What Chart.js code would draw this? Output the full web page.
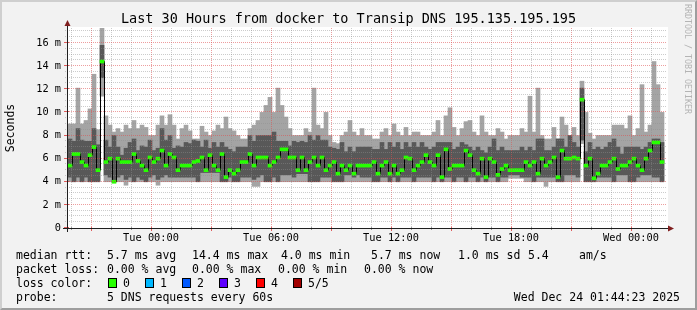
<!DOCTYPE html>
<html>
<head>
<meta charset="utf-8">
<title>Last 30 Hours from docker to Transip DNS</title>
<script src="https://cdn.jsdelivr.net/npm/chart.js@4.4.1/dist/chart.umd.min.js"></script>
<style>
  html, body { margin: 0; padding: 0; background: #f2f2f2; }
  #wrap { position: relative; width: 697px; height: 310px; overflow: hidden; }
  #frame { position: absolute; left: 0; top: 0; width: 697px; height: 310px; box-sizing: border-box;
    border: 2px solid; border-color: #cfcfcf #9e9e9e #9e9e9e #cfcfcf; }
  #chart { position: absolute; left: 0; top: 0; }
  .txt { position: absolute; font-family: "DejaVu Sans Mono", monospace; font-size: 11.5px; line-height: 14px; color: #000; white-space: pre; }
  #title { left: 0; width: 697px; text-align: center; font-size: 13.5px; line-height: 16px; top: 10px; }
  #mark { left: 683px; top: 4px; font-size: 8.3px; line-height: 10px; color: #b4b4b4; writing-mode: vertical-rl; }
  .box { position: absolute; width: 9px; height: 10px; box-sizing: border-box; border: 1px solid #000; }
</style>
</head>
<body>
<div id="wrap">
  <div id="frame"></div>
  <canvas id="chart" width="697" height="310"></canvas>
  <div class="txt" id="title">Last 30 Hours from docker to Transip DNS 195.135.195.195</div>
  <div class="txt" id="mark">RRDTOOL / TOBI OETIKER</div>
  <div id="legend"></div>
</div>
<script>
// one slot = 12 minutes, x is hours relative to Tue 00:00
const firstSlot = -4.05;
const slotHours = 0.2;
const xMin = -4.2, xMax = 25.8;
const yMax = 17.3;
const tickHours = [0, 6, 12, 18, 24];
const tickLabels = ['Tue 00:00', 'Tue 06:00', 'Tue 12:00', 'Tue 18:00', 'Wed 00:00'];
const yTicks = [0, 2, 4, 6, 8, 10, 12, 14, 16];
const yTickLabels = ['0', '2 m', '4 m', '6 m', '8 m', '10 m', '12 m', '14 m', '16 m'];

// smoke, ms: lowest ping, 2nd, median, 4th, highest ping
const lo = [
  4.0,4.0,4.0,4.0,4.0,4.0,4.0,4.0,11.4,4.0,4.0,4.0,4.0,4.0,3.7,4.0,4.0,4.0,4.0,4.0,4.0,4.0,3.7,4.0,4.0,
  4.0,4.0,4.0,4.0,4.0,4.0,4.0,4.0,4.0,4.0,4.0,4.0,4.0,4.0,4.0,4.0,4.0,4.0,4.0,4.0,4.0,3.6,3.6,4.0,
  4.0,4.0,4.0,4.0,4.0,4.0,4.0,4.0,4.0,4.0,4.0,4.0,4.0,4.0,4.0,4.0,4.0,4.0,4.0,4.0,4.0,4.0,4.0,4.0,4.0,
  4.0,4.0,4.0,4.0,4.0,4.0,4.0,4.0,4.0,4.0,4.0,4.0,4.0,4.0,4.0,4.0,4.0,4.0,4.0,4.0,4.0,4.0,4.0,4.0,4.0,
  4.0,4.0,4.0,4.0,4.0,4.0,4.0,4.0,4.0,4.0,4.0,4.3,4.3,4.3,4.3,4.0,4.0,4.0,4.0,4.0,3.6,4.0,4.0,4.0,4.0,
  4.0,4.0,4.0,4.0,7.3,4.0,4.0,4.0,4.0,4.0,4.0,4.0,4.0,4.0,4.0,4.0,4.0,4.0,4.0,4.0,4.0,4.0,4.0,4.0,4.0
];
const q2 = [
  4.4,4.0,4.4,4.0,4.4,4.0,4.0,4.0,13.0,4.6,4.4,4.0,4.4,4.6,4.2,4.4,4.0,4.4,4.2,4.0,4.4,4.6,4.2,4.4,4.6,
  4.4,4.4,4.4,4.4,4.4,4.4,4.4,4.0,4.8,4.8,4.8,4.8,4.8,4.0,4.0,4.4,4.0,4.0,4.4,4.4,4.4,4.2,4.4,4.6,
  4.0,4.0,4.4,4.0,4.6,4.6,4.6,4.4,4.7,4.7,4.7,4.0,4.0,4.0,4.4,4.4,4.4,4.0,4.0,4.0,4.6,4.6,4.4,4.6,4.4,
  4.4,4.4,4.0,4.0,4.4,4.4,4.0,4.4,4.0,4.4,4.4,4.4,4.0,4.4,4.4,4.4,4.4,4.0,4.4,4.0,4.4,4.4,4.0,4.4,4.4,
  4.0,4.4,4.4,4.0,4.4,4.0,4.4,4.4,4.0,4.4,4.4,4.6,4.6,4.6,4.4,4.4,4.4,4.0,4.4,4.4,4.4,4.4,4.4,4.0,4.0,
  4.6,4.6,4.6,4.4,7.6,4.0,4.0,4.0,4.4,4.4,4.4,4.4,4.0,4.6,4.6,4.6,4.0,4.0,4.4,4.6,4.6,4.6,4.4,4.4,4.0
];
const med = [
  5.4,6.4,6.4,5.7,5.4,6.3,7.0,5.0,14.4,5.7,6.0,4.0,6.0,5.7,5.7,5.7,6.4,5.8,5.4,5.0,6.1,5.7,6.0,6.7,5.4,
  6.4,6.1,5.0,5.4,5.4,5.4,5.7,5.8,6.1,5.0,6.3,5.4,5.0,6.4,4.4,5.0,4.7,5.0,5.7,5.7,6.4,5.4,6.1,6.1,
  6.1,5.4,5.7,6.1,6.8,6.8,6.1,6.1,5.0,6.1,5.0,5.7,6.1,5.4,6.1,5.0,5.4,5.7,4.7,5.4,5.0,5.4,4.7,5.4,5.4,
  5.4,5.4,5.7,4.7,5.4,5.7,4.7,5.4,4.7,5.0,6.1,6.0,5.0,5.4,5.7,6.3,5.7,5.4,6.3,4.4,6.8,5.1,5.4,5.4,5.4,
  6.7,6.3,5.0,4.7,6.0,4.4,6.0,5.7,4.6,5.1,5.4,5.0,5.0,5.0,5.0,5.7,5.4,5.7,4.7,6.0,5.4,5.7,6.1,4.4,6.7,
  6.0,6.0,6.1,6.0,11.1,5.4,6.0,4.3,4.7,5.4,5.4,5.7,6.0,5.1,5.4,5.4,5.7,6.0,5.4,5.0,6.0,6.7,7.4,7.4,5.7
];
const q4 = [
  7.7,7.5,8.6,7.6,7.5,7.5,8.6,7.2,15.8,7.6,7.0,8.0,7.0,6.3,6.9,7.4,7.7,6.7,7.1,7.0,7.6,6.7,6.9,8.6,7.6,
  8.0,6.9,7.1,7.0,7.4,7.3,7.6,7.5,7.0,7.6,6.9,7.4,7.0,7.4,7.0,6.8,6.6,7.0,7.0,7.0,8.0,7.5,8.0,8.0,
  8.0,8.0,8.3,7.5,7.5,7.5,7.1,7.5,7.4,7.5,7.4,8.0,7.6,8.0,7.6,7.6,7.0,6.9,6.8,7.4,6.6,7.0,6.6,7.0,7.0,
  7.0,7.0,6.8,6.8,7.4,6.8,7.4,7.0,7.4,6.8,7.4,7.0,7.4,7.0,7.4,7.0,6.8,7.0,7.4,7.4,7.4,7.4,6.8,7.0,7.4,
  7.2,7.0,6.7,7.0,6.7,6.5,7.0,7.7,6.7,7.0,6.7,6.7,6.7,6.7,7.0,6.7,7.0,6.7,7.7,7.7,6.7,6.7,7.0,7.7,7.7,
  7.0,8.0,7.4,7.0,12.1,6.6,7.4,6.8,7.0,6.8,7.0,7.4,7.7,7.0,6.4,7.0,7.0,7.0,7.0,6.8,7.0,7.4,7.7,7.7,7.4
];
const hi = [
  9.0,9.0,12.1,9.0,9.3,10.3,13.3,8.5,17.3,9.7,8.9,8.3,8.6,8.3,8.9,8.6,9.3,8.6,8.9,8.7,8.0,8.0,8.9,9.7,8.9,
  9.8,8.9,7.7,8.6,8.9,8.4,7.7,7.7,8.8,8.3,8.0,8.4,8.9,8.6,9.6,8.6,8.4,8.0,7.7,7.7,8.6,8.9,9.3,10.0,
  10.6,11.3,10.0,12.1,10.6,9.6,8.6,8.0,8.0,8.0,8.6,8.3,12.1,8.9,8.6,10.0,8.0,7.4,7.3,8.0,8.3,9.3,8.3,8.0,8.6,
  8.0,8.0,7.7,7.7,8.3,8.6,8.0,9.0,8.3,8.0,8.7,8.0,8.3,8.3,8.0,8.0,8.0,8.3,9.3,8.0,9.7,10.4,8.7,8.0,8.6,
  9.2,9.3,8.3,8.0,9.7,8.3,8.0,8.0,8.6,8.3,7.7,8.0,8.0,8.0,8.6,8.3,11.4,8.3,12.1,8.0,7.7,7.7,8.7,7.7,9.6,
  8.9,8.0,8.7,8.0,12.7,10.0,8.2,7.7,8.0,8.0,8.0,8.0,8.9,8.9,8.9,8.6,9.7,8.0,8.6,12.4,8.3,8.9,14.4,12.4,10.0
];

// legend texts
const rttStats = ['5.7 ms avg', '14.4 ms max', '4.0 ms min', '5.7 ms now', '1.0 ms sd', '5.4', 'am/s'];
const rttStatX = [107, 192, 281, 371, 458, 528, 579];
const lossStats = ['0.00 % avg', '0.00 % max', '0.00 % min', '0.00 % now'];
const lossStatX = [107, 192, 278, 364];
const lossLabels = ['0', '1', '2', '3', '4', '5/5'];
const lossColors = ['#26ff00', '#00b8ff', '#0059ff', '#5e00ff', '#ff0000', '#a10000'];
const probeText = '5 DNS requests every 60s';
const stamp = 'Wed Dec 24 01:44:23 2025';

const medHalf = 0.13;   // green median band is ~3px tall
const GRID = 'rgba(143,143,143,0.45)';
const MGRID = 'rgba(222,79,79,0.55)';

const slots = med.map((_, i) => firstSlot + i * slotHours);
const span = (a, b) => a.map((v, i) => ({x: slots[i], y: [v, b[i]]}));

function addText(txt, x, yMid, right) {
    const d = document.createElement('div');
    d.className = 'txt';
    d.textContent = txt;
    d.style.top = (yMid - 7) + 'px';
    if (right) d.style.right = (697 - x) + 'px'; else d.style.left = x + 'px';
    document.getElementById('legend').appendChild(d);
}

const rowY = [255, 269, 283, 297];
addText('median rtt:', 16, rowY[0]);
rttStats.forEach((s, i) => addText(s, rttStatX[i], rowY[0]));
addText('packet loss:', 16, rowY[1]);
lossStats.forEach((s, i) => addText(s, lossStatX[i], rowY[1]));
addText('loss color:', 16, rowY[2]);
lossLabels.forEach((s, i) => {
    const b = document.createElement('div');
    b.className = 'box';
    b.style.left = (108 + i * 37) + 'px';
    b.style.top = (rowY[2] - 5) + 'px';
    b.style.background = lossColors[i];
    document.getElementById('legend').appendChild(b);
    addText(s, 123 + i * 37, rowY[2]);
});
addText('probe:', 16, rowY[3]);
addText(probeText, 107, rowY[3]);
addText(stamp, 680, rowY[3], true);

const rrdPlugin = {
    id: 'rrd',
    beforeDraw(chart) {
        const {ctx, chartArea: a} = chart;
        ctx.save();
        ctx.fillStyle = '#ffffff';
        ctx.fillRect(a.left, a.top - 1, a.right - a.left + 1, a.bottom - a.top + 1);
        ctx.restore();
    },
    beforeDatasetDraw(chart, args) {
        // keep the 1px median connectors crisp
        if (args.meta.type === 'line') {
            chart.ctx.save();
            chart.ctx.translate(0.5, 0);
        }
    },
    afterDatasetDraw(chart, args) {
        if (args.meta.type === 'line') chart.ctx.restore();
    },
    afterDatasetsDraw(chart) {
        const {ctx, chartArea: a, scales: {x, y}} = chart;
        ctx.save();
        ctx.lineWidth = 1;
        ctx.setLineDash([1, 1]);
        // vertical grid: every hour, red every 3 hours
        for (let h = Math.ceil(x.min); h <= x.max; h++) {
            const px = Math.round(x.getPixelForValue(h)) + 0.5;
            const major = ((h % 3) + 3) % 3 === 0;
            ctx.strokeStyle = major ? MGRID : GRID;
            ctx.beginPath();
            ctx.moveTo(px, a.top);
            ctx.lineTo(px, a.bottom);
            ctx.stroke();
        }
        // horizontal grid: every 0.5 ms, red every 2 ms
        for (let v = 0.5; v <= y.max; v += 0.5) {
            const py = Math.round(y.getPixelForValue(v)) - 0.5;
            const major = v % 2 === 0;
            ctx.strokeStyle = major ? MGRID : GRID;
            ctx.beginPath();
            ctx.moveTo(a.left - 2, py);
            ctx.lineTo(a.right, py);
            ctx.stroke();
        }
        ctx.setLineDash([]);
        // tick marks
        for (let h = Math.ceil(x.min); h <= x.max; h++) {
            const px = Math.round(x.getPixelForValue(h)) + 0.5;
            const major = ((h % 3) + 3) % 3 === 0;
            ctx.strokeStyle = major ? 'rgba(222,79,79,0.9)' : 'rgba(143,143,143,0.9)';
            ctx.beginPath();
            ctx.moveTo(px, a.bottom - 1);
            ctx.lineTo(px, a.bottom + (major ? 3 : 2));
            ctx.stroke();
        }
        for (const v of yTicks) {
            const py = Math.round(y.getPixelForValue(v)) - 0.5;
            ctx.strokeStyle = 'rgba(222,79,79,0.9)';
            ctx.beginPath();
            ctx.moveTo(a.left - 3, py);
            ctx.lineTo(a.left + 2, py);
            ctx.stroke();
        }
        // axes
        ctx.strokeStyle = '#1f1f1f';
        ctx.beginPath();
        ctx.moveTo(a.left - 4, a.bottom + 0.5);
        ctx.lineTo(a.right + 2, a.bottom + 0.5);
        ctx.moveTo(a.left + 0.5, a.bottom + 4);
        ctx.lineTo(a.left + 0.5, a.top - 2);
        ctx.stroke();
        // arrows
        ctx.fillStyle = '#801f1f';
        ctx.beginPath();
        ctx.moveTo(a.left + 0.5 - 3, a.top - 2);
        ctx.lineTo(a.left + 0.5 + 3, a.top - 2);
        ctx.lineTo(a.left + 0.5, a.top - 8);
        ctx.closePath();
        ctx.fill();
        ctx.beginPath();
        ctx.moveTo(a.right + 1, a.bottom + 0.5 - 3);
        ctx.lineTo(a.right + 1, a.bottom + 0.5 + 3);
        ctx.lineTo(a.right + 7, a.bottom + 0.5);
        ctx.closePath();
        ctx.fill();
        ctx.restore();
    }
};

Chart.defaults.font.family = '"DejaVu Sans Mono", monospace';
Chart.defaults.color = '#000';

new Chart(document.getElementById('chart'), {
    type: 'bar',
    data: {
        datasets: [
            {label: 'ping 1-5', data: span(lo, hi), backgroundColor: '#a4a4a4', order: 4},
            {label: 'ping 2-4', data: span(q2, q4), backgroundColor: '#585858', order: 3},
            {
                type: 'line', label: 'median steps',
                data: med.map((v, i) => ({x: slots[i], y: v})),
                borderColor: '#000', borderWidth: 1, stepped: 'middle',
                pointRadius: 0, fill: false, order: 2
            },
            {
                label: 'median rtt',
                data: span(med.map(m => m - medHalf), med.map(m => m + medHalf)),
                backgroundColor: lossColors[0], order: 1
            }
        ]
    },
    options: {
        responsive: false,
        animation: false,
        devicePixelRatio: 1,
        layout: {padding: {left: 0, top: 28, right: 30, bottom: 62}},
        datasets: {bar: {grouped: false, barPercentage: 1, categoryPercentage: 1, borderWidth: 0}},
        plugins: {legend: {display: false}, tooltip: {enabled: false}, title: {display: false}},
        scales: {
            x: {
                type: 'linear', min: xMin, max: xMax, offset: false,
                grid: {display: false, drawTicks: false},
                border: {display: false},
                afterBuildTicks: ax => { ax.ticks = tickHours.map(v => ({value: v})); },
                afterFit: ax => { ax.height = 20; },
                ticks: {
                    autoSkip: false, maxRotation: 0, padding: 4,
                    font: {size: 10.3}, color: '#000',
                    callback: (v, i) => tickLabels[i]
                }
            },
            y: {
                min: 0, max: yMax,
                grid: {display: false, drawTicks: false},
                border: {display: false},
                afterBuildTicks: ax => { ax.ticks = yTicks.map(v => ({value: v})); },
                afterFit: ax => { ax.width = 67; },
                ticks: {padding: 6, font: {size: 10.3}, color: '#000', callback: (v, i) => yTickLabels[i]},
                title: {display: true, text: 'Seconds', font: {size: 11.5}, color: '#000', padding: {top: 4, bottom: 0}}
            }
        }
    },
    plugins: [rrdPlugin]
});
</script>
</body>
</html>
